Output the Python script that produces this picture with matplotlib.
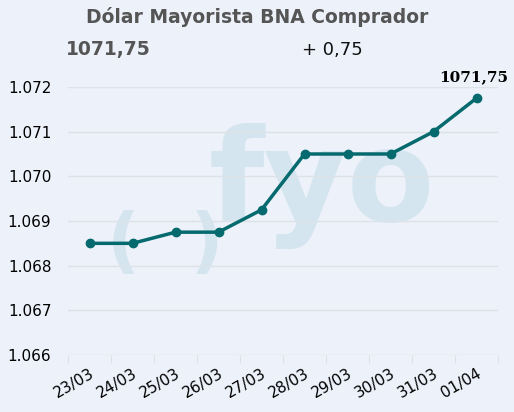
import matplotlib
matplotlib.use("Agg")
import matplotlib.pyplot as plt

dates = ["23/03","24/03","25/03","26/03","27/03","28/03","29/03","30/03","31/03","01/04"]
values = [1068.5,1068.5,1068.75,1068.75,1069.25,1070.5,1070.5,1070.5,1071.0,1071.75]
yticks = [1066,1067,1068,1069,1070,1071,1072]
ylabels = ["1.066","1.067","1.068","1.069","1.070","1.071","1.072"]

bg = "#edf1f9"
fig = plt.figure(figsize=(5.14,4.12), dpi=100, facecolor=bg)
ax = fig.add_axes([68/514, 1-355/412, 430/514, (355-87)/412*1.0])
ax.set_facecolor(bg)
x = [i+0.5 for i in range(len(dates))]
ax.set_xlim(0, len(dates))
ax.set_ylim(1066, 1072)
# watermark
ax.text(322/514, 1-186/412, "fyo", transform=fig.transFigure, fontsize=92, fontweight="bold",
        color="#d5e5ef", ha="center", va="center", zorder=0.5)
ax.text(165/514, 1-244/412, "(  )", transform=fig.transFigure, fontsize=52, fontweight="bold",
        color="#d5e5ef", ha="center", va="center", zorder=0.5)
ax.plot(x, values, color="#056a6e", lw=2.5, marker="o", ms=6, zorder=3)
ax.annotate("1071,75", (x[-1], values[-1]), xytext=(-2, 10), textcoords="offset points",
            ha="center", va="bottom", fontsize=11, fontweight="bold", family="DejaVu Serif")
ax.set_yticks(yticks)
ax.set_yticklabels(ylabels, fontsize=11)
ax.grid(axis="y", color="#dde2e8", lw=1)
ax.set_xticks(range(len(dates)+1), minor=False)
ax.set_xticklabels([""]*(len(dates)+1))
ax.set_xticks(x, minor=True)
ax.set_xticklabels(dates, minor=True, rotation=30, ha="right", fontsize=11, rotation_mode="anchor")
ax.tick_params(axis="x", which="minor", length=0, pad=8)
ax.tick_params(axis="x", which="major", length=6, color="#dde2e8")
ax.tick_params(axis="y", length=0, pad=12)
for s in ax.spines.values():
    s.set_visible(False)
ax.set_axisbelow(True)
fig.text(0.5, 1-17/412, "Dólar Mayorista BNA Comprador", ha="center", va="center",
         fontsize=13.5, fontweight="bold", color="#555555")
fig.text(66/514, 1-50/412, "1071,75", ha="left", va="center", fontsize=13.5,
         fontweight="bold", color="#555555")
fig.text(302/514, 1-50/412, "+ 0,75", ha="left", va="center", fontsize=13, color="#111111")
fig.savefig("out.png", dpi=100, facecolor=bg)
